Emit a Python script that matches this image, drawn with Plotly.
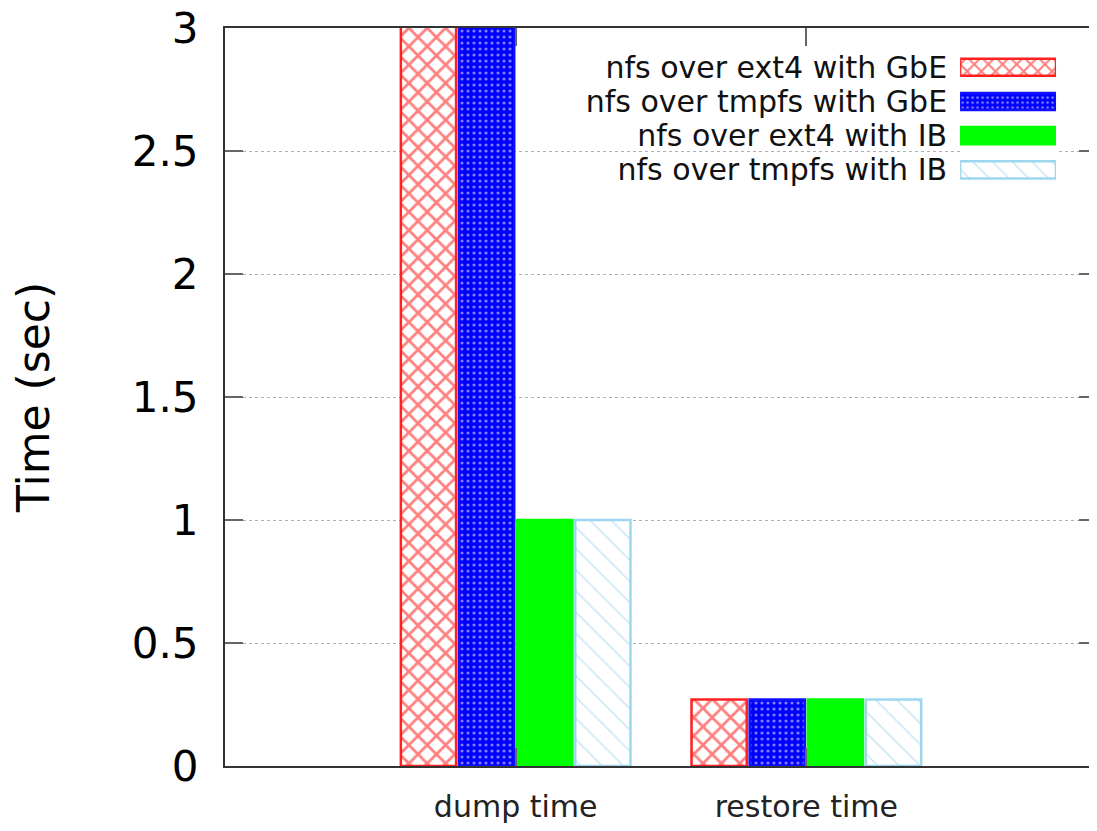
import plotly.graph_objects as go

categories = ["dump time", "restore time"]
series_names = [
    "nfs over ext4 with GbE",
    "nfs over tmpfs with GbE",
    "nfs over ext4 with IB",
    "nfs over tmpfs with IB",
]
ext4_gbe = [8.2, 0.27]
tmpfs_gbe = [7.6, 0.27]
ext4_ib = [1.0, 0.27]
tmpfs_ib = [1.0, 0.27]
series_values = [ext4_gbe, tmpfs_gbe, ext4_ib, tmpfs_ib]
y_ticks = [0, 0.5, 1, 1.5, 2, 2.5, 3]
y_tick_labels = ["0", "0.5", "1", "1.5", "2", "2.5", "3"]

line_colors = ["#ff2020", "#1010ff", "#00ff00", "#9dd6f0"]
fill_colors = ["white", "#0000ff", "#00ff00", "white"]
pattern_colors = ["#ff0000", "white", "#00ff00", "#8ccbea"]
pattern_shapes = ["x", ".", "", "\\"]
pattern_sizes = [13, 6, 8, 15]
legend_pattern_sizes = [10, 5, 8, 14]
pattern_solidity = [0.38, 0.22, 0.3, 0.1]

FONT = "DejaVu Sans"

fig = go.Figure()
for name, vals, lc, pc, ps, sz, sol, bg in zip(series_names, series_values, line_colors, pattern_colors,
                                               pattern_shapes, pattern_sizes, pattern_solidity, fill_colors):
    fig.add_trace(go.Bar(
        x=categories, y=vals, name=name, showlegend=False,
        marker=dict(
            color=bg,
            line=dict(color=lc, width=2.5),
            pattern=dict(shape=ps, fgcolor=pc, bgcolor=bg, size=sz, solidity=sol, fillmode="overlay"),
        ),
    ))

# legend key drawn as small horizontal bars on their own axes
for name, lc, pc, ps, sz, sol, bg in zip(series_names, line_colors, pattern_colors,
                                         pattern_shapes, legend_pattern_sizes, pattern_solidity, fill_colors):
    fig.add_trace(go.Bar(
        y=[name], x=[1], orientation="h", showlegend=False,
        xaxis="x2", yaxis="y2", width=0.5, offsetgroup="key",
        marker=dict(
            color=bg,
            line=dict(color=lc, width=2.5),
            pattern=dict(shape=ps, fgcolor=pc, bgcolor=bg, size=sz, solidity=sol, fillmode="overlay"),
        ),
        hoverinfo="skip",
    ))

axis_line = "#333333"
fig.update_layout(
    width=1089, height=815,
    margin=dict(l=217, r=0, t=20, b=57),
    paper_bgcolor="white", plot_bgcolor="white",
    barmode="group", bargap=0.2, bargroupgap=0.05,
    font=dict(family=FONT, color="black"),
    xaxis=dict(
        range=[-1, 2], type="category",
        showline=True, linecolor=axis_line, linewidth=2, mirror="ticks",
        ticks="inside", ticklen=18, tickwidth=2, tickcolor="#666666",
        tickfont=dict(size=30, color="#222222"), ticklabelstandoff=13,
        showgrid=False, zeroline=False, automargin=False, ticklabeloverflow="allow",
    ),
    yaxis=dict(
        range=[0, 3], tickvals=y_ticks, ticktext=y_tick_labels,
        showline=True, linecolor=axis_line, linewidth=2, mirror="ticks",
        ticks="inside", ticklen=18, tickwidth=2, tickcolor="#666666",
        tickfont=dict(size=42, color="black"), ticklabelstandoff=16,
        showgrid=True, gridcolor="#b0b0b0", griddash="dot", gridwidth=1,
        zeroline=False, automargin=False, ticklabeloverflow="allow",
        title=dict(text="Time (sec)", font=dict(size=44, color="black"), standoff=68),
    ),
    xaxis2=dict(
        domain=[0.843, 0.953], range=[0, 1], anchor="y2",
        visible=False, fixedrange=True,
    ),
    yaxis2=dict(
        domain=[0.7846, 0.970], anchor="x2", type="category",
        tickmode="array", tickvals=series_names, ticktext=series_names,
        autorange="reversed", showline=False, showgrid=False, zeroline=False,
        ticks="", tickfont=dict(size=30, color="#111111"), ticklabelstandoff=12,
        fixedrange=True, automargin=False, ticklabeloverflow="allow",
    ),
)

fig.write_html("out.html")
